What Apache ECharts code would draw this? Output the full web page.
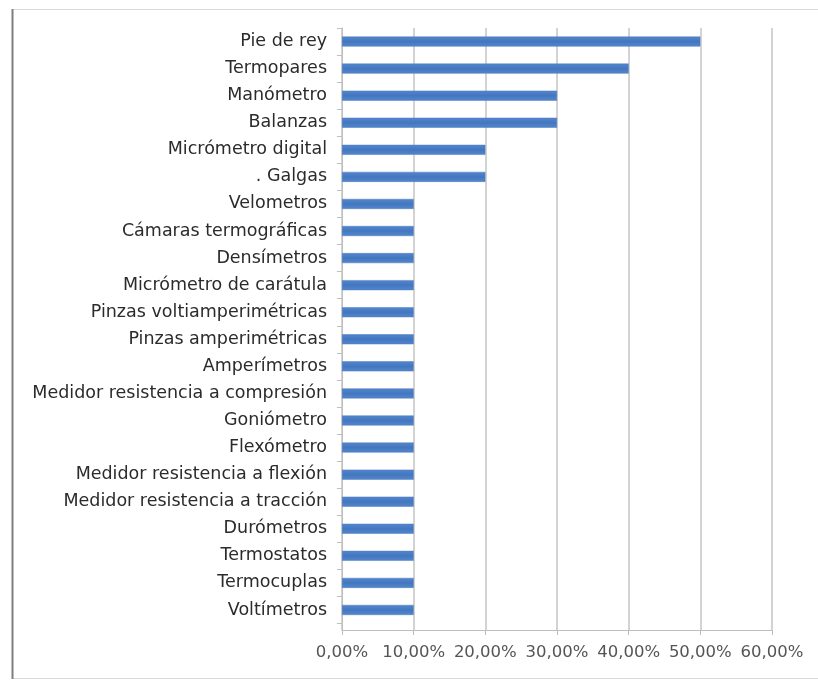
<!DOCTYPE html>
<html>
<head>
<meta charset="utf-8">
<script src="https://cdn.jsdelivr.net/npm/echarts@6/dist/echarts.min.js"></script>
<style>
  html, body { margin: 0; padding: 0; background: #fff; }
  #chart { width: 818px; height: 680px; }
</style>
</head>
<body>
<div id="chart"></div>
<script>
// Instruments, listed top to bottom
const categories = [
  'Pie de rey', 'Termopares', 'Manómetro', 'Balanzas', 'Micrómetro digital',
  '. Galgas', 'Velometros', 'Cámaras termográficas', 'Densímetros',
  'Micrómetro de carátula', 'Pinzas voltiamperimétricas', 'Pinzas amperimétricas',
  'Amperímetros', 'Medidor resistencia a compresión', 'Goniómetro', 'Flexómetro',
  'Medidor resistencia a flexión', 'Medidor resistencia a tracción', 'Durómetros',
  'Termostatos', 'Termocuplas', 'Voltímetros'
];
// Share of each instrument, in percent
const shares = [50, 40, 30, 30, 20, 20, 10, 10, 10, 10, 10, 10, 10, 10, 10, 10, 10, 10, 10, 10, 10, 10];
// Value axis range, in percent
const axisMax = 60;
const axisStep = 10;

const fmtPct = v => v.toFixed(2).replace('.', ',') + '%';
const axisGray = '#bfbfbf';

const chart = echarts.init(document.getElementById('chart'));
chart.setOption({
  animation: false,
  backgroundColor: '#ffffff',
  textStyle: { fontFamily: 'DejaVu Sans' },
  graphic: [
    { type: 'rect', shape: { x: 12.5, y: 9.5, width: 810, height: 669 },
      style: { fill: 'none', stroke: '#d9d9d9', lineWidth: 1 }, silent: true },
    { type: 'line', shape: { x1: 12.5, y1: 9, x2: 12.5, y2: 679 },
      style: { stroke: '#7f7f7f', lineWidth: 2 }, silent: true }
  ],
  // grid 0 holds the bars and category labels; grid 1 (a little taller)
  // carries the value scale, its gridlines and the axis frame
  grid: [
    { left: 342, right: 46, top: 28, bottom: 56.5, containLabel: false },
    { left: 342, right: 46, top: 28, bottom: 50, containLabel: false }
  ],
  xAxis: [
    {
      gridIndex: 0, type: 'value', min: 0, max: axisMax, interval: axisStep,
      axisLine: { show: false }, axisTick: { show: false },
      splitLine: { show: false }, axisLabel: { show: false }
    },
    {
      gridIndex: 1, type: 'value', min: 0, max: axisMax, interval: axisStep,
      axisLine: { show: true, lineStyle: { color: axisGray } },
      axisTick: { show: true, length: 5, lineStyle: { color: axisGray } },
      splitLine: { show: true, lineStyle: { color: '#c4c4c4', width: 1.5 } },
      axisLabel: { color: '#555555', fontSize: 16.5, margin: 14, formatter: fmtPct }
    }
  ],
  yAxis: [
    {
      gridIndex: 0, type: 'category', data: categories, inverse: true,
      axisLine: { show: false },
      axisTick: { show: true, length: 5, lineStyle: { color: axisGray } },
      axisLabel: { color: '#2b2b2b', fontSize: 17.5, margin: 15 }
    },
    {
      gridIndex: 1, type: 'value', min: 0, max: 1,
      axisLine: { show: true, lineStyle: { color: axisGray } },
      axisTick: { show: false }, splitLine: { show: false }, axisLabel: { show: false }
    }
  ],
  series: [{
    type: 'bar',
    xAxisIndex: 0, yAxisIndex: 0,
    data: shares,
    barWidth: 10,
    z: 3,
    itemStyle: {
      color: new echarts.graphic.LinearGradient(0, 0, 0, 1, [
        { offset: 0, color: '#5586cc' },
        { offset: 0.5, color: '#4277c0' },
        { offset: 1, color: '#5586cc' }
      ]),
      borderColor: '#4a7cc0', borderWidth: 0.5
    }
  }]
});
</script>
</body>
</html>
